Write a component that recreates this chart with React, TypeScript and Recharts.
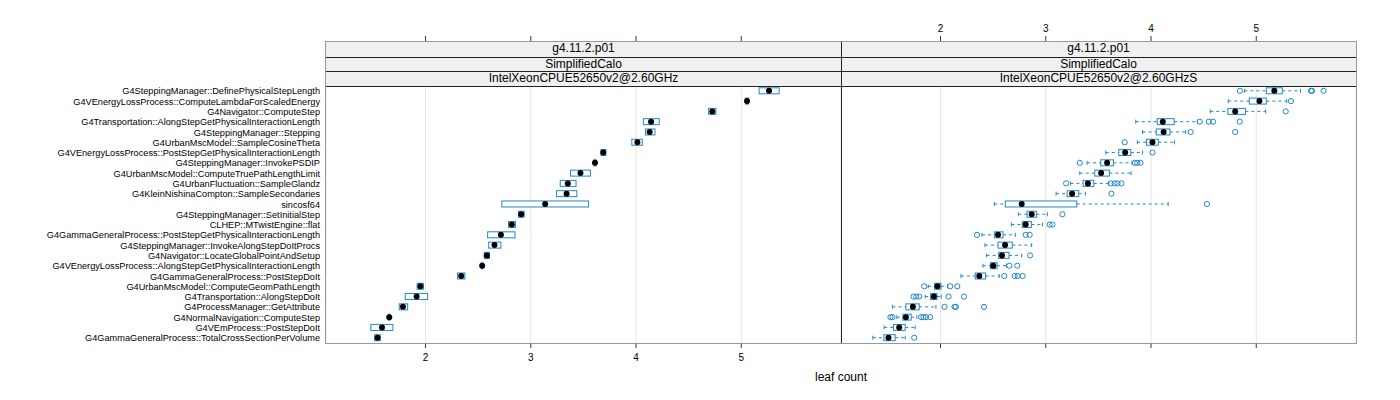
import { Bar, BarChart, CartesianGrid, XAxis, YAxis } from "recharts";

const categories = [
  "G4SteppingManager::DefinePhysicalStepLength",
  "G4VEnergyLossProcess::ComputeLambdaForScaledEnergy",
  "G4Navigator::ComputeStep",
  "G4Transportation::AlongStepGetPhysicalInteractionLength",
  "G4SteppingManager::Stepping",
  "G4UrbanMscModel::SampleCosineTheta",
  "G4VEnergyLossProcess::PostStepGetPhysicalInteractionLength",
  "G4SteppingManager::InvokePSDIP",
  "G4UrbanMscModel::ComputeTruePathLengthLimit",
  "G4UrbanFluctuation::SampleGlandz",
  "G4KleinNishinaCompton::SampleSecondaries",
  "sincosf64",
  "G4SteppingManager::SetInitialStep",
  "CLHEP::MTwistEngine::flat",
  "G4GammaGeneralProcess::PostStepGetPhysicalInteractionLength",
  "G4SteppingManager::InvokeAlongStepDoItProcs",
  "G4Navigator::LocateGlobalPointAndSetup",
  "G4VEnergyLossProcess::AlongStepGetPhysicalInteractionLength",
  "G4GammaGeneralProcess::PostStepDoIt",
  "G4UrbanMscModel::ComputeGeomPathLength",
  "G4Transportation::AlongStepDoIt",
  "G4ProcessManager::GetAttribute",
  "G4NormalNavigation::ComputeStep",
  "G4VEmProcess::PostStepDoIt",
  "G4GammaGeneralProcess::TotalCrossSectionPerVolume",
];

const xTicks = [2, 3, 4, 5];
const stripLabels = ["g4.11.2.p01", "SimplifiedCalo"];
const hostLabels = ["IntelXeonCPUE52650v2@2.60GHz", "IntelXeonCPUE52650v2@2.60GHzS"];

// left panel: boxes only, whiskers collapse onto the box
const leftQ1 = [5.17, 5.04, 4.69, 4.07, 4.09, 3.96, 3.668, 3.6, 3.377, 3.28, 3.244, 2.725, 2.883, 2.788, 2.59, 2.6, 2.557, 2.53, 2.304, 1.92, 1.807, 1.75, 1.648, 1.48, 1.516];
const leftMed = [5.264, 5.055, 4.725, 4.143, 4.13, 4.013, 3.688, 3.61, 3.472, 3.352, 3.34, 3.137, 2.909, 2.82, 2.716, 2.655, 2.583, 2.538, 2.339, 1.95, 1.915, 1.785, 1.655, 1.586, 1.544];
const leftQ3 = [5.36, 5.07, 4.76, 4.22, 4.18, 4.06, 3.713, 3.62, 3.567, 3.43, 3.438, 3.55, 2.937, 2.855, 2.85, 2.716, 2.608, 2.545, 2.374, 1.98, 2.02, 1.83, 1.662, 1.69, 1.57];

// right panel
const rightLow = [4.887, 4.734, 4.563, 3.855, 3.919, 3.87, 3.57, 3.393, 3.323, 3.234, 3.098, 2.511, 2.739, 2.673, 2.394, 2.422, 2.438, 2.403, 2.194, 1.883, 1.854, 1.543, 1.585, 1.464, 1.357];
const rightQ1 = [5.096, 4.934, 4.73, 4.059, 4.05, 3.957, 3.694, 3.522, 3.465, 3.355, 3.203, 2.616, 2.822, 2.777, 2.511, 2.546, 2.552, 2.473, 2.33, 1.943, 1.905, 1.671, 1.642, 1.553, 1.461];
const rightMed = [5.172, 5.03, 4.8, 4.112, 4.12, 4.014, 3.754, 3.583, 3.526, 3.4, 3.25, 2.771, 2.866, 2.809, 2.546, 2.613, 2.584, 2.501, 2.368, 1.971, 1.937, 1.737, 1.671, 1.607, 1.505];
const rightQ3 = [5.248, 5.096, 4.897, 4.22, 4.18, 4.069, 3.808, 3.643, 3.605, 3.456, 3.313, 3.294, 2.911, 2.863, 2.594, 2.682, 2.651, 2.537, 2.428, 2.004, 1.966, 1.797, 1.721, 1.664, 1.569];
const rightHigh = [5.42, 5.29, 5.09, 4.44, 4.33, 4.223, 3.919, 3.82, 3.81, 3.6, 3.377, 4.163, 3.015, 2.968, 2.711, 2.866, 2.771, 2.625, 2.558, 2.067, 2.007, 1.956, 1.775, 1.759, 1.664];
const rightOutliers = [
  [4.845, 5.52, 5.53, 5.64],
  [5.33],
  [5.28],
  [4.464, 4.55, 4.59, 4.843],
  [4.376, 4.8],
  [3.75],
  [4.014],
  [3.323, 3.846, 3.869, 3.9],
  [],
  [3.193, 3.617, 3.655, 3.681, 3.719],
  [3.624],
  [4.531],
  [3.158],
  [3.037, 3.063],
  [2.346, 2.809, 2.847],
  [],
  [2.851],
  [2.654, 2.73],
  [2.606, 2.704, 2.733, 2.78],
  [1.845, 2.092, 2.159],
  [1.743, 1.769, 1.797, 2.076, 2.222],
  [2.038, 2.133, 2.146, 2.413],
  [1.524, 1.543, 1.816, 1.838, 1.861, 1.902],
  [],
  [1.75],
];

const BLUE = "#2188c9";
const FONT = "'Liberation Sans', Arial, Helvetica, sans-serif";
const DOMAIN: [number, number] = [1.054, 5.948];

const STRIP_TOP = 42;
const STRIP_H = 14.6;
const PLOT_TOP = STRIP_TOP + STRIP_H * 3;
const PLOT_BOTTOM = 343;
const LEFT_X = 326;
const PANEL_W = 515;

function buildRows(q1: number[], med: number[], q3: number[], low?: number[], high?: number[], out?: number[][]) {
  return categories.map((name, i) => {
    const lo = low ? low[i] : q1[i];
    const hi = high ? high[i] : q3[i];
    const outs = out ? out[i] : [];
    return {
      name,
      q1: q1[i],
      med: med[i],
      q3: q3[i],
      lo,
      hi,
      outs,
      range: [Math.min(lo, ...outs), Math.max(hi, ...outs)],
    };
  });
}

const leftRows = buildRows(leftQ1, leftMed, leftQ3);
const rightRows = buildRows(rightQ1, rightMed, rightQ3, rightLow, rightHigh, rightOutliers);

// bar spans [range0, range1]; positions inside are interpolated on the linear axis
function BoxShape(props: any) {
  const { x, y, width, height, payload } = props;
  const [a, b] = payload.range;
  const px = (v: number) => (b === a ? x : x + ((v - a) / (b - a)) * width);
  const cy = y + height / 2;
  const x1 = px(payload.q1);
  const x3 = px(payload.q3);
  const xl = px(payload.lo);
  const xh = px(payload.hi);
  return (
    <g>
      {payload.lo < payload.q1 && (
        <g stroke={BLUE} strokeWidth={1}>
          <line x1={xl} x2={x1} y1={cy} y2={cy} strokeDasharray="3 3" />
          <line x1={xl} x2={xl} y1={cy - 2} y2={cy + 2} />
        </g>
      )}
      {payload.hi > payload.q3 && (
        <g stroke={BLUE} strokeWidth={1}>
          <line x1={x3} x2={xh} y1={cy} y2={cy} strokeDasharray="3 3" />
          <line x1={xh} x2={xh} y1={cy - 2} y2={cy + 2} />
        </g>
      )}
      <rect x={x1} y={cy - 3} width={Math.max(x3 - x1, 1)} height={6} fill="#fff" stroke={BLUE} strokeWidth={1} />
      {payload.outs.map((o: number, k: number) => (
        <circle key={k} cx={px(o)} cy={cy} r={2.6} fill="none" stroke={BLUE} strokeWidth={1} />
      ))}
      <circle cx={px(payload.med)} cy={cy} r={3} fill="#000" />
    </g>
  );
}

function makeTick(bottomLabel: boolean, topLabel: boolean) {
  return (props: any) => {
    const { x, payload } = props;
    return (
      <g>
        <line x1={x} x2={x} y1={STRIP_TOP - 6} y2={STRIP_TOP} stroke="#333" />
        {bottomLabel && (
          <text x={x} y={361} textAnchor="middle" fontSize={10} fill="#000" fontFamily={FONT}>
            {payload.value}
          </text>
        )}
        {topLabel && (
          <text x={x} y={32} textAnchor="middle" fontSize={10} fill="#000" fontFamily={FONT}>
            {payload.value}
          </text>
        )}
      </g>
    );
  };
}

function CatTick(props: any) {
  const { x, y, payload } = props;
  return (
    <text x={x} y={y} dy={3.5} textAnchor="end" fontSize={9.2} fill="#000" fontFamily={FONT}>
      {payload.value}
    </text>
  );
}

function Panel({ rows, showCats, bottomLabel, topLabel, left }: any) {
  const width = (showCats ? LEFT_X : 0) + PANEL_W;
  return (
    <div style={{ position: "absolute", left, top: 0 }}>
      <BarChart
        width={width}
        height={400}
        data={rows}
        layout="vertical"
        barCategoryGap={0}
        margin={{ top: PLOT_TOP, right: 0, bottom: 400 - PLOT_BOTTOM - 30, left: 0 }}
        style={{ overflow: "visible" }}
      >
        <CartesianGrid horizontal={false} stroke="#e6e6e6" />
        <XAxis
          type="number"
          domain={DOMAIN}
          ticks={xTicks}
          allowDataOverflow
          height={30}
          axisLine={false}
          tickSize={5}
          tickLine={{ stroke: "#333" }}
          tick={makeTick(bottomLabel, topLabel)}
        />
        <YAxis
          type="category"
          dataKey="name"
          width={showCats ? LEFT_X : 0}
          hide={!showCats}
          interval={0}
          axisLine={false}
          tickLine={false}
          tickSize={0}
          tickMargin={6}
          tick={<CatTick />}
        />
        <Bar dataKey="range" shape={<BoxShape />} isAnimationActive={false} />
      </BarChart>
    </div>
  );
}

function Strips({ left, host }: { left: number; host: string }) {
  const labels = [...stripLabels, host];
  return (
    <>
      {labels.map((t, i) => (
        <div
          key={i}
          style={{
            position: "absolute",
            left,
            top: STRIP_TOP + i * STRIP_H,
            width: PANEL_W,
            height: STRIP_H,
            background: "#f0f0f0",
            borderTop: i === 0 ? "none" : "1px solid #222",
            boxSizing: "border-box",
            fontSize: 12,
            lineHeight: `${STRIP_H - 1}px`,
            textAlign: "center",
            fontFamily: FONT,
            color: "#000",
          }}
        >
          {t}
        </div>
      ))}
      <div
        style={{
          position: "absolute",
          left,
          top: PLOT_TOP,
          width: PANEL_W,
          height: 0,
          borderTop: "1px solid #222",
        }}
      />
    </>
  );
}

export default function App() {
  return (
    <div style={{ position: "relative", width: 1400, height: 400, background: "#fff", fontFamily: FONT }}>
      <style>{"body{margin:0}"}</style>
      <Panel rows={leftRows} showCats bottomLabel topLabel={false} left={0} />
      <Panel rows={rightRows} showCats={false} bottomLabel={false} topLabel left={LEFT_X + PANEL_W} />
      <Strips left={LEFT_X} host={hostLabels[0]} />
      <Strips left={LEFT_X + PANEL_W} host={hostLabels[1]} />
      <div
        style={{
          position: "absolute",
          left: LEFT_X + PANEL_W,
          top: STRIP_TOP,
          width: 0,
          height: PLOT_BOTTOM - STRIP_TOP,
          borderLeft: "1px solid #222",
        }}
      />
      <div
        style={{
          position: "absolute",
          left: LEFT_X - 1,
          top: STRIP_TOP - 1,
          width: PANEL_W * 2 + 2,
          height: PLOT_BOTTOM - STRIP_TOP + 2,
          border: "1.5px solid #999",
          boxSizing: "border-box",
        }}
      />
      <div
        style={{
          position: "absolute",
          left: LEFT_X,
          width: PANEL_W * 2,
          top: 370,
          textAlign: "center",
          fontSize: 12,
          color: "#000",
        }}
      >
        leaf count
      </div>
    </div>
  );
}
